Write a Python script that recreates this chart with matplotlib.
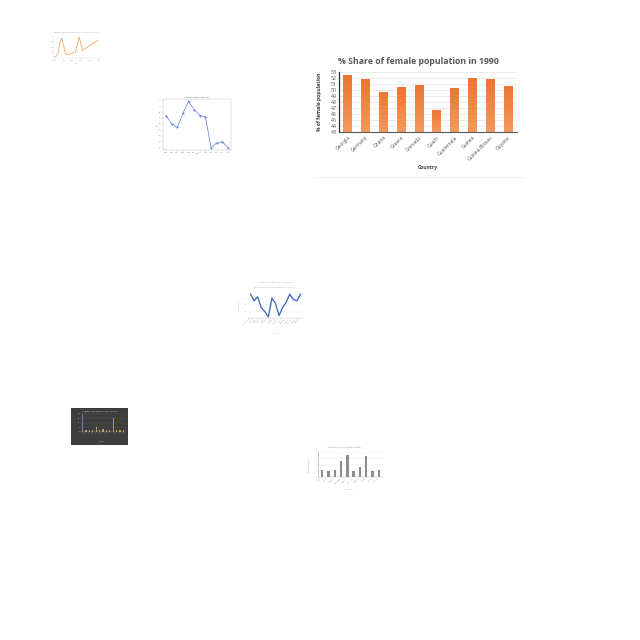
import matplotlib
matplotlib.use('Agg')
import matplotlib.pyplot as plt
from matplotlib.patches import Rectangle
from matplotlib.lines import Line2D
from matplotlib.colors import LinearSegmentedColormap
import numpy as np

plt.rcParams['font.family'] = ['Open Sans', 'DejaVu Sans']

# main chart data
countries = ['Georgia', 'Germany', 'Ghana', 'Greece', 'Grenada', 'Guam',
             'Guatemala', 'Guinea', 'Guinea-Bissau', 'Guyana']
share_1990 = [52.5, 51.8, 49.6, 50.4, 50.7, 46.6, 50.3, 52.0, 51.7, 50.6]

# small chart, top left (orange line)
tl_years = list(range(1990, 2016))
tl_vals = [47.2, 47.4, 48.0, 49.8, 50.6, 49.4, 48.0, 47.6, 47.7, 47.8, 47.9, 48.0,
           48.1, 49.6, 50.8, 49.6, 48.4, 48.6, 48.8, 49.0, 49.2, 49.4, 49.6, 49.8,
           50.0, 50.2]

# small chart, blue line with frame
bl_years = list(range(2005, 2017))
bl_vals = [6.2, 5.5, 5.2, 6.4, 7.4, 6.7, 6.2, 6.1, 3.5, 3.9, 4.0, 3.5]

# small chart, middle (dark blue line)
ml_labels = ['Afghanistan', 'Albania', 'Algeria', 'Andorra', 'Angola', 'Argentina',
             'Armenia', 'Aruba', 'Australia', 'Austria', 'Bahamas', 'Bahrain',
             'Barbados', 'Belarus', 'Belgium']
ml_vals = [48, 43, 46, 38, 35, 31, 45, 41, 32, 38, 42, 48, 44, 43, 48]

# small chart, dark background bars
db_labels = ['A', 'B', 'C', 'D', 'E', 'F', 'G', 'H', 'I', 'J', 'K', 'L', 'M']
db_vals = [20, 2, 2, 2, 5, 2, 3, 2, 2, 16, 2, 2, 2]

# small chart, gray bars
gb_labels = ['Cuba', 'Cyprus', 'Czechia', 'Denmark', 'Djibouti', 'Dominica',
             'Ecuador', 'Egypt', 'Eritrea', 'Estonia']
gb_vals = [1.2, 1.0, 1.2, 2.5, 3.5, 1.0, 1.6, 3.3, 1.0, 1.2]

W = H = 640.0
fig = plt.figure(figsize=(6.4, 6.4), dpi=100)
fig.patch.set_facecolor('white')


def px(left, top, right, bottom):
    return [left / W, 1 - bottom / H, (right - left) / W, (bottom - top) / H]


def fx(x):
    return x / W


def fy(y):
    return 1 - y / H


# ---------------- main bar chart ----------------
ax = fig.add_axes(px(339, 72, 517, 132))
x = np.arange(len(countries))
bars = ax.bar(x, [v - 43 for v in share_1990], bottom=43, width=0.5, color='#EE7B30', zorder=3)
# excel-like gradient fill on each bar
grad = LinearSegmentedColormap.from_list('og', ['#F39A5C', '#EC7632'])
for b in bars:
    bx, by = b.get_x(), b.get_y()
    bw, bh = b.get_width(), b.get_height()
    ax.imshow(np.linspace(0, 1, 64).reshape(-1, 1), cmap=grad, origin='lower', aspect='auto',
              extent=(bx, bx + bw, by, by + bh), zorder=4, interpolation='bilinear')
ax.set_ylim(43, 53)
ax.set_xlim(-0.5, len(countries) - 0.5)
ax.set_aspect('auto')
ax.set_yticks(range(43, 54))
ax.tick_params(axis='y', labelsize=3.8, length=0, pad=1.5, labelcolor='#595959')
ax.set_xticks(x)
ax.set_xticklabels(countries, rotation=45, ha='right', rotation_mode='anchor',
                   fontsize=3.6, color='#595959')
ax.tick_params(axis='x', length=0, pad=2)
ax.yaxis.grid(color='#E3E3E3', linewidth=0.5, zorder=0)
for s in ['top', 'right']:
    ax.spines[s].set_visible(False)
ax.spines['left'].set_color('#333333')
ax.spines['left'].set_linewidth(0.9)
ax.spines['bottom'].set_color('#595959')
ax.spines['bottom'].set_linewidth(0.8)
fig.text(fx(418), fy(61), '% Share of female population in 1990', ha='center', va='center',
         fontsize=6.3, fontweight='bold', color='#595959')
fig.text(fx(320), fy(102), '% of female population', ha='center', va='center', rotation=90,
         fontsize=3.6, fontweight='bold', color='#404040')
fig.text(fx(428), fy(167), 'Country', ha='center', va='center',
         fontsize=3.6, fontweight='bold', color='#404040')
fig.add_artist(Line2D([fx(313), fx(523)], [fy(177), fy(177)], color='#EDEDED', linewidth=0.6))

# ---------------- top-left orange line ----------------
ax1 = fig.add_axes(px(53, 36, 100, 58))
ax1.plot(tl_years, tl_vals, color='#F6A866', linewidth=0.6)
ax1.set_xlim(1989, 2016)
ax1.tick_params(labelsize=1.2, length=0.6, width=0.2, pad=0.5, colors='#AAAAAA')
for s in ax1.spines.values():
    s.set_linewidth(0.2)
    s.set_color('#CCCCCC')
ax1.spines['top'].set_visible(False)
ax1.spines['right'].set_visible(False)
fig.text(fx(76), fy(32), 'Female population (% of total) in Georgia 1990-2015', ha='center',
         va='center', fontsize=1.4, color='#999999')
fig.text(fx(76), fy(63), 'Year', ha='center', va='center', fontsize=1.3, color='#AAAAAA')

# ---------------- framed blue line ----------------
ax3 = fig.add_axes(px(163, 99, 231, 150))
ax3.plot(bl_years, bl_vals, color='#5B7FD6', linewidth=0.5, marker='o', markersize=0.5)
ax3.set_xticks(bl_years)
ax3.tick_params(labelsize=1.3, length=0.6, width=0.2, pad=0.5, colors='#777777')
for s in ax3.spines.values():
    s.set_linewidth(0.3)
    s.set_color('#BBBBBB')
ax3.set_title('Unemployment rate (%)', fontsize=1.6, pad=0.8, color='#555555')
ax3.set_xlabel('Year', fontsize=1.3, labelpad=0.5, color='#777777')
ax3.set_ylabel('Rate', fontsize=1.3, labelpad=0.5, color='#777777')

# ---------------- middle dark-blue line ----------------
ax4 = fig.add_axes(px(248, 293, 303, 318))
ax4.plot(range(len(ml_vals)), ml_vals, color='#4A6FBF', linewidth=1.0)
ax4.set_xticks(range(len(ml_labels)))
ax4.set_xticklabels(ml_labels, rotation=45, ha='right', fontsize=1.2, color='#999999')
ax4.tick_params(axis='y', labelsize=1.3, length=0, pad=0.5, colors='#999999')
ax4.tick_params(axis='x', length=0, pad=0.3)
ax4.yaxis.grid(color='#EEEEEE', linewidth=0.3)
for s in ['top', 'right', 'left']:
    ax4.spines[s].set_visible(False)
ax4.spines['bottom'].set_linewidth(0.3)
ax4.spines['bottom'].set_color('#BBBBBB')
fig.text(fx(275), fy(282), '% Labor force participation, female', ha='center', va='center',
         fontsize=1.5, color='#AAAAAA')
fig.text(fx(275), fy(287), '(% of female population ages 15+) in 2015', ha='center',
         va='center', fontsize=1.5, color='#AAAAAA')
fig.text(fx(240), fy(305), 'Labor force', ha='center', va='center', rotation=90,
         fontsize=1.3, color='#AAAAAA')
fig.text(fx(276), fy(333), 'Country', ha='center', va='center', fontsize=1.3, color='#AAAAAA')

# ---------------- dark background bars ----------------
fig.add_artist(Rectangle((fx(71), fy(445)), (128 - 71) / W, (445 - 408) / H,
                         transform=fig.transFigure, facecolor='#3D3D3D', edgecolor='none',
                         zorder=-1))
ax5 = fig.add_axes(px(80, 413, 126, 432))
ax5.set_facecolor('#3D3D3D')
db_colors = ['#6F7FB4'] + ['#B8A070'] * 8 + ['#D98A2E'] + ['#B8A070'] * 3
ax5.bar(range(len(db_vals)), db_vals, width=0.3, color=db_colors, zorder=3)
ax5.set_xticks(range(len(db_labels)))
ax5.set_xticklabels(db_labels, rotation=45, ha='right', fontsize=1.2, color='#BBBBBB')
ax5.tick_params(axis='y', labelsize=1.2, length=0, pad=0.5, colors='#BBBBBB')
ax5.tick_params(axis='x', length=0, pad=0.3)
ax5.yaxis.grid(color='#555555', linewidth=0.3, zorder=0)
for s in ['top', 'right', 'left']:
    ax5.spines[s].set_visible(False)
ax5.spines['bottom'].set_color('#888888')
ax5.spines['bottom'].set_linewidth(0.3)
fig.text(fx(100), fy(411), 'Number of births by country in 2015', ha='center', va='center',
         fontsize=1.5, color='#DDDDDD')
fig.text(fx(102), fy(442), 'Country', ha='center', va='center', fontsize=1.2, color='#BBBBBB')

# ---------------- gray bars ----------------
ax6 = fig.add_axes(px(318, 452, 383, 477))
ax6.bar(range(len(gb_vals)), gb_vals, width=0.4, color='#8E8E8E', zorder=3)
ax6.set_ylim(0, 4)
ax6.set_xticks(range(len(gb_labels)))
ax6.set_xticklabels(gb_labels, rotation=45, ha='right', fontsize=1.3, color='#888888')
ax6.tick_params(axis='y', labelsize=1.3, length=0, pad=0.5, colors='#888888')
ax6.tick_params(axis='x', length=0, pad=0.3)
ax6.yaxis.grid(color='#E5E5E5', linewidth=0.3, zorder=0)
for s in ['top', 'right']:
    ax6.spines[s].set_visible(False)
ax6.spines['left'].set_linewidth(0.4)
ax6.spines['left'].set_color('#999999')
ax6.spines['bottom'].set_linewidth(0.3)
ax6.spines['bottom'].set_color('#BBBBBB')
fig.text(fx(345), fy(447), 'Fertility rate (births per woman)', ha='center', va='center',
         fontsize=1.6, color='#888888')
fig.text(fx(309), fy(465), 'Births per woman', ha='center', va='center', rotation=90,
         fontsize=1.2, color='#888888')
fig.text(fx(350), fy(490), 'Country', ha='center', va='center', fontsize=1.3, color='#888888')

fig.savefig('out.png', dpi=100, facecolor='white')
